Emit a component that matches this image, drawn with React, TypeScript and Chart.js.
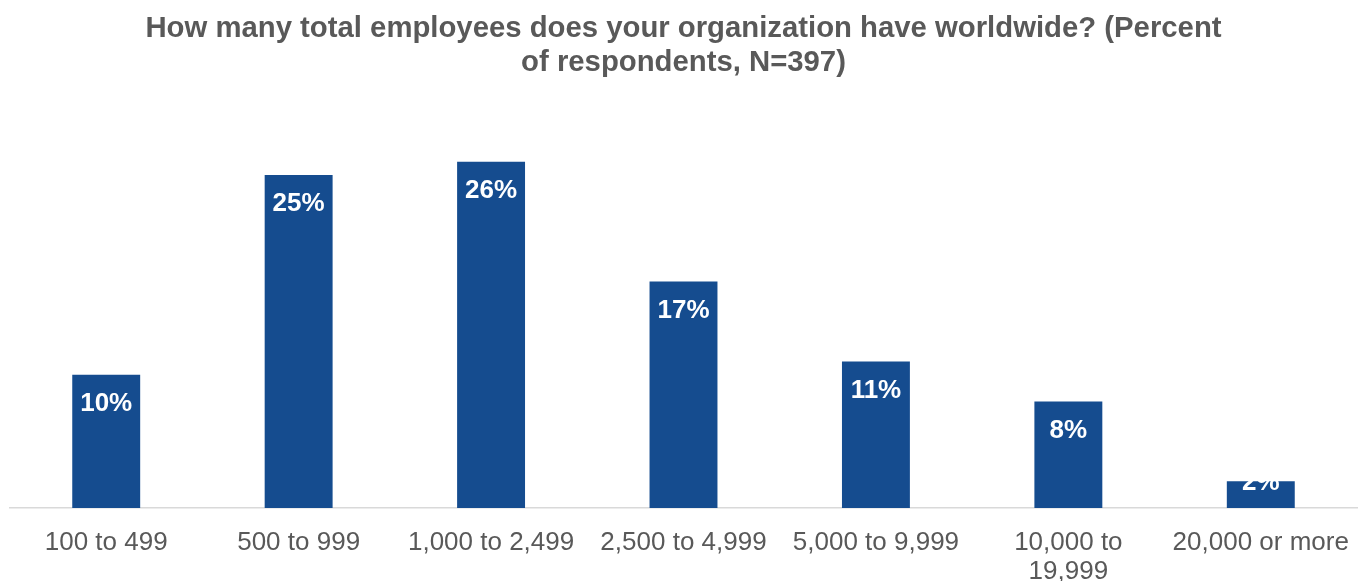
import React, { useEffect, useRef } from "react";
import { Chart, registerables } from "chart.js";

Chart.register(...registerables);

const TITLE_LINES = [
  "How many total employees does your organization have worldwide? (Percent",
  "of respondents, N=397)",
];
const CATEGORIES: (string | string[])[] = [
  "100 to 499",
  "500 to 999",
  "1,000 to 2,499",
  "2,500 to 4,999",
  "5,000 to 9,999",
  ["10,000 to", "19,999"],
  "20,000 or more",
];
const VALUES = [10, 25, 26, 17, 11, 8, 2];
const VALUE_LABELS = ["10%", "25%", "26%", "17%", "11%", "8%", "2%"];
const Y_MAX = 30;

const FONT = "'Liberation Sans', Arial, sans-serif";
const BAR_COLOR = "#154C8F";
const TEXT_GRAY = "#595959";

const labelPlugin = {
  id: "insideEndLabels",
  afterDatasetsDraw(chart: any) {
    const ctx = chart.ctx;
    const meta = chart.getDatasetMeta(0);
    ctx.save();
    ctx.font = `bold 26px ${FONT}`;
    ctx.fillStyle = "#ffffff";
    ctx.textAlign = "center";
    ctx.textBaseline = "middle";
    meta.data.forEach((bar: any, i: number) => {
      const h = bar.base - bar.y;
      const cy = h >= 45 ? bar.y + 29 : bar.y + 1;
      ctx.fillText(VALUE_LABELS[i], bar.x, cy);
    });
    ctx.restore();
  },
};

export default function App() {
  const ref = useRef<HTMLCanvasElement | null>(null);
  useEffect(() => {
    if (!ref.current) return;
    const chart = new Chart(ref.current, {
      type: "bar",
      data: {
        labels: CATEGORIES,
        datasets: [
          {
            data: VALUES,
            backgroundColor: BAR_COLOR,
            categoryPercentage: 1,
            barPercentage: 0.353,
          },
        ],
      },
      options: {
        responsive: false,
        animation: false,
        layout: { padding: { left: 10, right: 2, top: 0, bottom: 0 } },
        plugins: {
          legend: { display: false },
          tooltip: { enabled: false },
          title: {
            display: true,
            text: TITLE_LINES,
            color: TEXT_GRAY,
            font: { family: FONT, size: 29.3, weight: "bold", lineHeight: 1.15 },
            padding: { top: 12, bottom: 29 },
          },
        },
        scales: {
          y: {
            display: false,
            min: 0,
            max: Y_MAX,
          },
          x: {
            grid: { display: false, drawTicks: false },
            border: { display: true, color: "#D9D9D9", width: 1.5 },
            ticks: {
              color: TEXT_GRAY,
              font: { family: FONT, size: 26, lineHeight: 1.13 },
              padding: 20,
              maxRotation: 0,
              autoSkip: false,
            },
            afterFit: (scale: any) => {
              scale.height = 73;
              scale.paddingLeft = 0;
              scale.paddingRight = 0;
            },
          },
        },
      },
      plugins: [labelPlugin],
    });
    return () => chart.destroy();
  }, []);
  return (
    <div style={{ position: "absolute", left: 0, top: 0, width: 1359, height: 581, background: "#fff" }}>
      <canvas ref={ref} width={1359} height={581} style={{ display: "block" }} />
    </div>
  );
}
